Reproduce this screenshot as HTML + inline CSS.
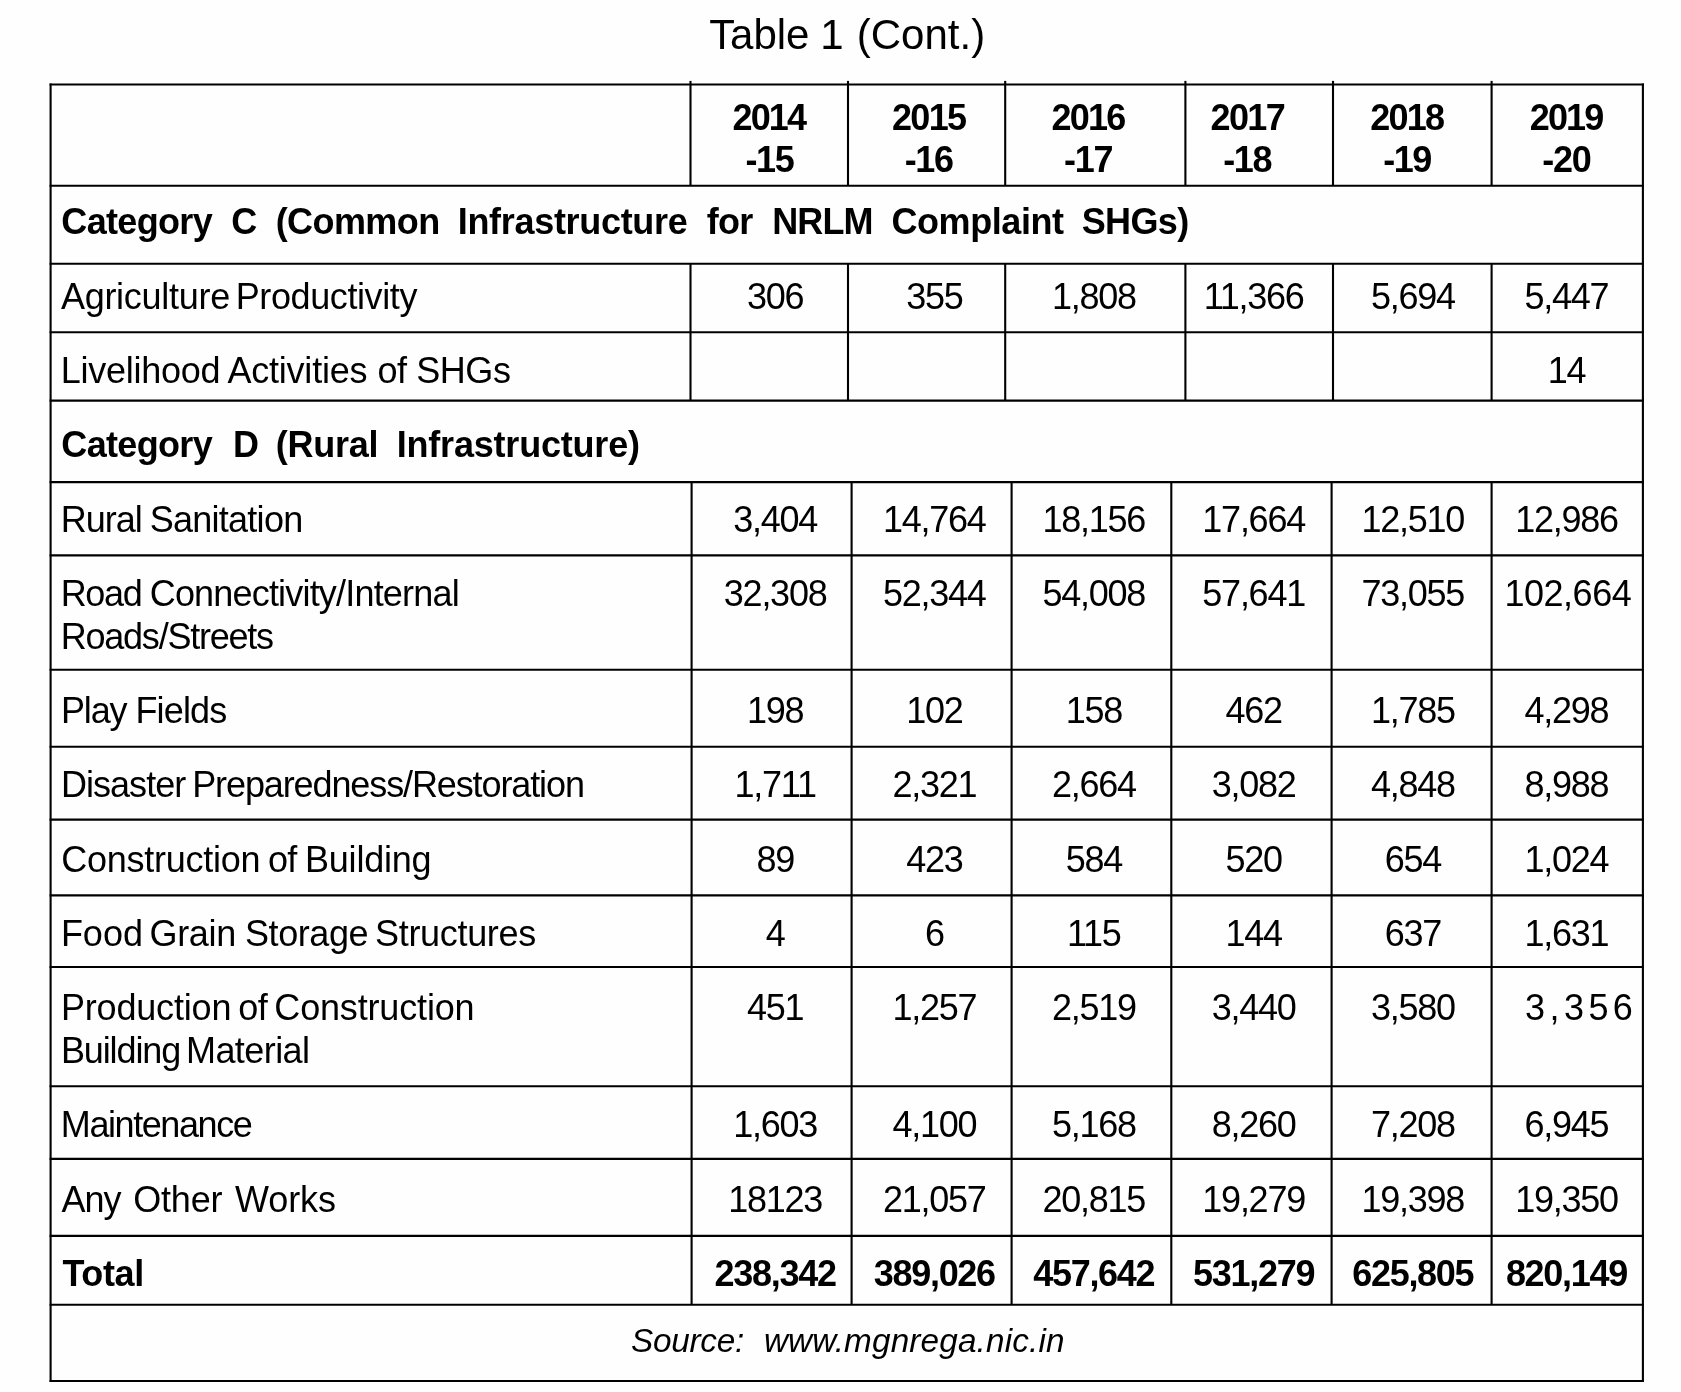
<!DOCTYPE html>
<html><head><meta charset="utf-8"><title>Table 1 (Cont.)</title>
<style>
html,body{margin:0;padding:0;background:#fefefe;}
body{width:1681px;height:1392px;position:relative;overflow:hidden;font-family:"Liberation Sans",sans-serif;color:#000;}
.t{position:absolute;white-space:pre;line-height:1;}
.b{font-weight:bold}.i{font-style:italic}
svg{position:absolute;left:0;top:0}
#txt{position:absolute;left:0;top:0;width:1681px;height:1392px;will-change:transform;}
</style></head><body>
<svg width="1681" height="1392" viewBox="0 0 1681 1392" fill="none" stroke="#000" stroke-width="2.1">
<line x1="49.6" y1="84.5" x2="1644.0" y2="84.5"/>
<line x1="49.6" y1="185.7" x2="1644.0" y2="185.7"/>
<line x1="49.6" y1="263.8" x2="1644.0" y2="263.8"/>
<line x1="49.6" y1="332.2" x2="1644.0" y2="332.2"/>
<line x1="49.6" y1="400.6" x2="1644.0" y2="400.6"/>
<line x1="49.6" y1="482.1" x2="1644.0" y2="482.1"/>
<line x1="49.6" y1="555.4" x2="1644.0" y2="555.4"/>
<line x1="49.6" y1="669.8" x2="1644.0" y2="669.8"/>
<line x1="49.6" y1="746.8" x2="1644.0" y2="746.8"/>
<line x1="49.6" y1="819.6" x2="1644.0" y2="819.6"/>
<line x1="49.6" y1="895.4" x2="1644.0" y2="895.4"/>
<line x1="49.6" y1="967.0" x2="1644.0" y2="967.0"/>
<line x1="49.6" y1="1086.2" x2="1644.0" y2="1086.2"/>
<line x1="49.6" y1="1158.9" x2="1644.0" y2="1158.9"/>
<line x1="49.6" y1="1235.9" x2="1644.0" y2="1235.9"/>
<line x1="49.6" y1="1304.7" x2="1644.0" y2="1304.7"/>
<line x1="49.6" y1="1381.0" x2="1644.0" y2="1381.0"/>
<line x1="50.6" y1="83.5" x2="50.6" y2="1382.0"/>
<line x1="1642.9" y1="83.5" x2="1642.9" y2="1382.0"/>
<line x1="690.5" y1="80.9" x2="690.5" y2="185.7"/>
<line x1="690.5" y1="263.8" x2="690.5" y2="400.6"/>
<line x1="848.0" y1="80.9" x2="848.0" y2="185.7"/>
<line x1="848.0" y1="263.8" x2="848.0" y2="400.6"/>
<line x1="1005.2" y1="80.9" x2="1005.2" y2="185.7"/>
<line x1="1005.2" y1="263.8" x2="1005.2" y2="400.6"/>
<line x1="1185.4" y1="80.9" x2="1185.4" y2="185.7"/>
<line x1="1185.4" y1="263.8" x2="1185.4" y2="400.6"/>
<line x1="1333.0" y1="80.9" x2="1333.0" y2="185.7"/>
<line x1="1333.0" y1="263.8" x2="1333.0" y2="400.6"/>
<line x1="1491.6" y1="80.9" x2="1491.6" y2="185.7"/>
<line x1="1491.6" y1="263.8" x2="1491.6" y2="400.6"/>
<line x1="691.6" y1="482.1" x2="691.6" y2="1304.7"/>
<line x1="851.6" y1="482.1" x2="851.6" y2="1304.7"/>
<line x1="1011.6" y1="482.1" x2="1011.6" y2="1304.7"/>
<line x1="1171.3" y1="482.1" x2="1171.3" y2="1304.7"/>
<line x1="1331.6" y1="482.1" x2="1331.6" y2="1304.7"/>
<line x1="1491.6" y1="482.1" x2="1491.6" y2="1304.7"/>
</svg>
<div id="txt">
<div class="t" style="left:709.15px;top:13.75px;font-size:42px;letter-spacing:-0.06px;">Table</div>
<div class="t" style="left:856.74px;top:13.75px;font-size:42px;letter-spacing:0.01px;">(Cont.)</div>
<div class="t" style="left:60.95px;top:278.83px;font-size:36px;letter-spacing:-0.28px;">Agriculture</div>
<div class="t" style="left:235.73px;top:278.83px;font-size:36px;letter-spacing:-0.40px;">Productivity</div>
<div class="t" style="left:60.73px;top:352.83px;font-size:36px;letter-spacing:-0.27px;">Livelihood</div>
<div class="t" style="left:227.45px;top:352.83px;font-size:36px;letter-spacing:-0.22px;">Activities</div>
<div class="t" style="left:377.53px;top:352.83px;font-size:36px;letter-spacing:-0.64px;">of</div>
<div class="t" style="left:416.35px;top:352.83px;font-size:36px;letter-spacing:-0.49px;">SHGs</div>
<div class="t" style="left:60.73px;top:501.83px;font-size:36px;letter-spacing:-1.01px;">Rural</div>
<div class="t" style="left:149.65px;top:501.83px;font-size:36px;letter-spacing:-0.73px;">Sanitation</div>
<div class="t" style="left:60.73px;top:575.83px;font-size:36px;letter-spacing:-1.35px;">Road</div>
<div class="t" style="left:149.70px;top:575.83px;font-size:36px;letter-spacing:-0.81px;">Connectivity/Internal</div>
<div class="t" style="left:60.73px;top:618.83px;font-size:36px;letter-spacing:-1.23px;">Roads/Streets</div>
<div class="t" style="left:60.88px;top:692.83px;font-size:36px;letter-spacing:-1.12px;">Play</div>
<div class="t" style="left:135.43px;top:692.83px;font-size:36px;letter-spacing:-0.85px;">Fields</div>
<div class="t" style="left:60.88px;top:766.83px;font-size:36px;letter-spacing:-0.95px;">Disaster</div>
<div class="t" style="left:192.23px;top:766.83px;font-size:36px;letter-spacing:-1.11px;">Preparedness/Restoration</div>
<div class="t" style="left:61.20px;top:841.83px;font-size:36px;letter-spacing:-0.24px;">Construction</div>
<div class="t" style="left:268.03px;top:841.83px;font-size:36px;letter-spacing:-0.74px;">of</div>
<div class="t" style="left:305.03px;top:841.83px;font-size:36px;letter-spacing:-0.22px;">Building</div>
<div class="t" style="left:60.88px;top:915.83px;font-size:36px;">Food</div>
<div class="t" style="left:149.51px;top:915.83px;font-size:36px;letter-spacing:-0.31px;">Grain</div>
<div class="t" style="left:245.05px;top:915.83px;font-size:36px;letter-spacing:-0.44px;">Storage</div>
<div class="t" style="left:375.05px;top:915.83px;font-size:36px;letter-spacing:-0.32px;">Structures</div>
<div class="t" style="left:60.88px;top:989.83px;font-size:36px;letter-spacing:-0.17px;">Production</div>
<div class="t" style="left:238.23px;top:989.83px;font-size:36px;letter-spacing:-0.44px;">of</div>
<div class="t" style="left:274.30px;top:989.83px;font-size:36px;letter-spacing:-0.16px;">Construction</div>
<div class="t" style="left:60.88px;top:1032.83px;font-size:36px;letter-spacing:-1.10px;">Building</div>
<div class="t" style="left:186.03px;top:1032.83px;font-size:36px;letter-spacing:-0.58px;">Material</div>
<div class="t" style="left:60.83px;top:1106.83px;font-size:36px;letter-spacing:-1.42px;">Maintenance</div>
<div class="t" style="left:61.45px;top:1181.83px;font-size:36px;letter-spacing:-1.02px;">Any</div>
<div class="t" style="left:133.27px;top:1181.83px;font-size:36px;letter-spacing:-0.21px;">Other</div>
<div class="t" style="left:235.04px;top:1181.83px;font-size:36px;letter-spacing:-0.12px;">Works</div>
<div class="t b" style="left:62.45px;top:1255.83px;font-size:36px;letter-spacing:-0.40px;">Total</div>
<div class="t b" style="left:61.32px;top:203.83px;font-size:36px;letter-spacing:-0.66px;">Category</div>
<div class="t b" style="left:231.17px;top:203.83px;font-size:36px;">C</div>
<div class="t b" style="left:275.63px;top:203.83px;font-size:36px;letter-spacing:-0.57px;">(Common</div>
<div class="t b" style="left:457.71px;top:203.83px;font-size:36px;letter-spacing:-0.31px;">Infrastructure</div>
<div class="t b" style="left:706.77px;top:203.83px;font-size:36px;letter-spacing:-0.75px;">for</div>
<div class="t b" style="left:772.21px;top:203.83px;font-size:36px;letter-spacing:-0.88px;">NRLM</div>
<div class="t b" style="left:891.47px;top:203.83px;font-size:36px;letter-spacing:-0.42px;">Complaint</div>
<div class="t b" style="left:1081.65px;top:203.83px;font-size:36px;letter-spacing:-0.62px;">SHGs)</div>
<div class="t b" style="left:61.32px;top:426.83px;font-size:36px;letter-spacing:-0.66px;">Category</div>
<div class="t b" style="left:232.91px;top:426.83px;font-size:36px;">D</div>
<div class="t b" style="left:275.63px;top:426.83px;font-size:36px;letter-spacing:-0.21px;">(Rural</div>
<div class="t b" style="left:396.71px;top:426.83px;font-size:36px;letter-spacing:-0.20px;">Infrastructure)</div>
<div class="t i" style="left:631.03px;top:1324.11px;font-size:33.3px;letter-spacing:-0.27px;">Source:</div>
<div class="t i" style="left:763.89px;top:1324.11px;font-size:33.3px;letter-spacing:0.16px;">www.mgnrega.nic.in</div>
<div class="t" style="left:1525.09px;top:989.83px;font-size:36px;letter-spacing:4.43px;">3,356</div>
<div class="t" style="left:1504.55px;top:575.83px;font-size:36px;letter-spacing:-0.50px;">102,664</div>
<div class="t b" style="left:732.54px;top:99.83px;font-size:36px;letter-spacing:-1.88px;">2014</div>
<div class="t b" style="left:745.45px;top:141.83px;font-size:36px;letter-spacing:-1.35px;">-15</div>
<div class="t b" style="left:892.04px;top:99.83px;font-size:36px;letter-spacing:-1.70px;">2015</div>
<div class="t b" style="left:904.65px;top:141.83px;font-size:36px;letter-spacing:-1.30px;">-16</div>
<div class="t b" style="left:1051.44px;top:99.83px;font-size:36px;letter-spacing:-1.73px;">2016</div>
<div class="t b" style="left:1064.05px;top:141.83px;font-size:36px;letter-spacing:-1.33px;">-17</div>
<div class="t b" style="left:1210.54px;top:99.83px;font-size:36px;letter-spacing:-1.65px;">2017</div>
<div class="t b" style="left:1223.15px;top:141.83px;font-size:36px;letter-spacing:-1.33px;">-18</div>
<div class="t b" style="left:1370.24px;top:99.83px;font-size:36px;letter-spacing:-1.75px;">2018</div>
<div class="t b" style="left:1383.15px;top:141.83px;font-size:36px;letter-spacing:-1.45px;">-19</div>
<div class="t b" style="left:1529.74px;top:99.83px;font-size:36px;letter-spacing:-1.86px;">2019</div>
<div class="t b" style="left:1542.35px;top:141.83px;font-size:36px;letter-spacing:-1.28px;">-20</div>
<div class="t" style="left:747.00px;top:278.83px;font-size:36px;letter-spacing:-1.26px;">306</div>
<div class="t" style="left:906.16px;top:278.83px;font-size:36px;letter-spacing:-1.26px;">355</div>
<div class="t" style="left:1051.88px;top:278.83px;font-size:36px;letter-spacing:-1.26px;">1,808</div>
<div class="t" style="left:1203.71px;top:278.83px;font-size:36px;letter-spacing:-1.26px;">11,366</div>
<div class="t" style="left:1370.89px;top:278.83px;font-size:36px;letter-spacing:-1.26px;">5,694</div>
<div class="t" style="left:1524.52px;top:278.83px;font-size:36px;letter-spacing:-1.26px;">5,447</div>
<div class="t" style="left:1547.65px;top:352.83px;font-size:36px;letter-spacing:-1.26px;">14</div>
<div class="t" style="left:733.25px;top:501.83px;font-size:36px;letter-spacing:-1.26px;">3,404</div>
<div class="t" style="left:883.03px;top:501.83px;font-size:36px;letter-spacing:-1.26px;">14,764</div>
<div class="t" style="left:1042.49px;top:501.83px;font-size:36px;letter-spacing:-1.26px;">18,156</div>
<div class="t" style="left:1202.37px;top:501.83px;font-size:36px;letter-spacing:-1.26px;">17,664</div>
<div class="t" style="left:1361.50px;top:501.83px;font-size:36px;letter-spacing:-1.26px;">12,510</div>
<div class="t" style="left:1515.13px;top:501.83px;font-size:36px;letter-spacing:-1.26px;">12,986</div>
<div class="t" style="left:723.86px;top:575.83px;font-size:36px;letter-spacing:-1.26px;">32,308</div>
<div class="t" style="left:883.03px;top:575.83px;font-size:36px;letter-spacing:-1.26px;">52,344</div>
<div class="t" style="left:1042.49px;top:575.83px;font-size:36px;letter-spacing:-1.26px;">54,008</div>
<div class="t" style="left:1202.37px;top:575.83px;font-size:36px;letter-spacing:-1.26px;">57,641</div>
<div class="t" style="left:1361.50px;top:575.83px;font-size:36px;letter-spacing:-1.26px;">73,055</div>
<div class="t" style="left:747.00px;top:692.83px;font-size:36px;letter-spacing:-1.26px;">198</div>
<div class="t" style="left:906.16px;top:692.83px;font-size:36px;letter-spacing:-1.26px;">102</div>
<div class="t" style="left:1065.63px;top:692.83px;font-size:36px;letter-spacing:-1.26px;">158</div>
<div class="t" style="left:1225.50px;top:692.83px;font-size:36px;letter-spacing:-1.26px;">462</div>
<div class="t" style="left:1370.89px;top:692.83px;font-size:36px;letter-spacing:-1.26px;">1,785</div>
<div class="t" style="left:1524.52px;top:692.83px;font-size:36px;letter-spacing:-1.26px;">4,298</div>
<div class="t" style="left:734.58px;top:766.83px;font-size:36px;letter-spacing:-1.26px;">1,711</div>
<div class="t" style="left:892.41px;top:766.83px;font-size:36px;letter-spacing:-1.26px;">2,321</div>
<div class="t" style="left:1051.88px;top:766.83px;font-size:36px;letter-spacing:-1.26px;">2,664</div>
<div class="t" style="left:1211.75px;top:766.83px;font-size:36px;letter-spacing:-1.26px;">3,082</div>
<div class="t" style="left:1370.89px;top:766.83px;font-size:36px;letter-spacing:-1.26px;">4,848</div>
<div class="t" style="left:1524.52px;top:766.83px;font-size:36px;letter-spacing:-1.26px;">8,988</div>
<div class="t" style="left:756.38px;top:841.83px;font-size:36px;letter-spacing:-1.26px;">89</div>
<div class="t" style="left:906.16px;top:841.83px;font-size:36px;letter-spacing:-1.26px;">423</div>
<div class="t" style="left:1065.63px;top:841.83px;font-size:36px;letter-spacing:-1.26px;">584</div>
<div class="t" style="left:1225.50px;top:841.83px;font-size:36px;letter-spacing:-1.26px;">520</div>
<div class="t" style="left:1384.64px;top:841.83px;font-size:36px;letter-spacing:-1.26px;">654</div>
<div class="t" style="left:1524.52px;top:841.83px;font-size:36px;letter-spacing:-1.26px;">1,024</div>
<div class="t" style="left:765.76px;top:915.83px;font-size:36px;letter-spacing:-1.26px;">4</div>
<div class="t" style="left:924.93px;top:915.83px;font-size:36px;letter-spacing:-1.26px;">6</div>
<div class="t" style="left:1066.96px;top:915.83px;font-size:36px;letter-spacing:-1.26px;">115</div>
<div class="t" style="left:1225.50px;top:915.83px;font-size:36px;letter-spacing:-1.26px;">144</div>
<div class="t" style="left:1384.64px;top:915.83px;font-size:36px;letter-spacing:-1.26px;">637</div>
<div class="t" style="left:1524.52px;top:915.83px;font-size:36px;letter-spacing:-1.26px;">1,631</div>
<div class="t" style="left:747.00px;top:989.83px;font-size:36px;letter-spacing:-1.26px;">451</div>
<div class="t" style="left:892.41px;top:989.83px;font-size:36px;letter-spacing:-1.26px;">1,257</div>
<div class="t" style="left:1051.88px;top:989.83px;font-size:36px;letter-spacing:-1.26px;">2,519</div>
<div class="t" style="left:1211.75px;top:989.83px;font-size:36px;letter-spacing:-1.26px;">3,440</div>
<div class="t" style="left:1370.89px;top:989.83px;font-size:36px;letter-spacing:-1.26px;">3,580</div>
<div class="t" style="left:733.25px;top:1106.83px;font-size:36px;letter-spacing:-1.26px;">1,603</div>
<div class="t" style="left:892.41px;top:1106.83px;font-size:36px;letter-spacing:-1.26px;">4,100</div>
<div class="t" style="left:1051.88px;top:1106.83px;font-size:36px;letter-spacing:-1.26px;">5,168</div>
<div class="t" style="left:1211.75px;top:1106.83px;font-size:36px;letter-spacing:-1.26px;">8,260</div>
<div class="t" style="left:1370.89px;top:1106.83px;font-size:36px;letter-spacing:-1.26px;">7,208</div>
<div class="t" style="left:1524.52px;top:1106.83px;font-size:36px;letter-spacing:-1.26px;">6,945</div>
<div class="t" style="left:728.24px;top:1181.83px;font-size:36px;letter-spacing:-1.26px;">18123</div>
<div class="t" style="left:883.03px;top:1181.83px;font-size:36px;letter-spacing:-1.26px;">21,057</div>
<div class="t" style="left:1042.49px;top:1181.83px;font-size:36px;letter-spacing:-1.26px;">20,815</div>
<div class="t" style="left:1202.37px;top:1181.83px;font-size:36px;letter-spacing:-1.26px;">19,279</div>
<div class="t" style="left:1361.50px;top:1181.83px;font-size:36px;letter-spacing:-1.26px;">19,398</div>
<div class="t" style="left:1515.13px;top:1181.83px;font-size:36px;letter-spacing:-1.26px;">19,350</div>
<div class="t b" style="left:714.61px;top:1255.83px;font-size:36px;letter-spacing:-1.30px;">238,342</div>
<div class="t b" style="left:873.77px;top:1255.83px;font-size:36px;letter-spacing:-1.30px;">389,026</div>
<div class="t b" style="left:1033.24px;top:1255.83px;font-size:36px;letter-spacing:-1.30px;">457,642</div>
<div class="t b" style="left:1193.12px;top:1255.83px;font-size:36px;letter-spacing:-1.30px;">531,279</div>
<div class="t b" style="left:1352.25px;top:1255.83px;font-size:36px;letter-spacing:-1.30px;">625,805</div>
<div class="t b" style="left:1505.88px;top:1255.83px;font-size:36px;letter-spacing:-1.30px;">820,149</div>
<div class="t" style="left:820.22px;top:13.85px;font-size:42px;">1</div>
</div>
</body></html>
